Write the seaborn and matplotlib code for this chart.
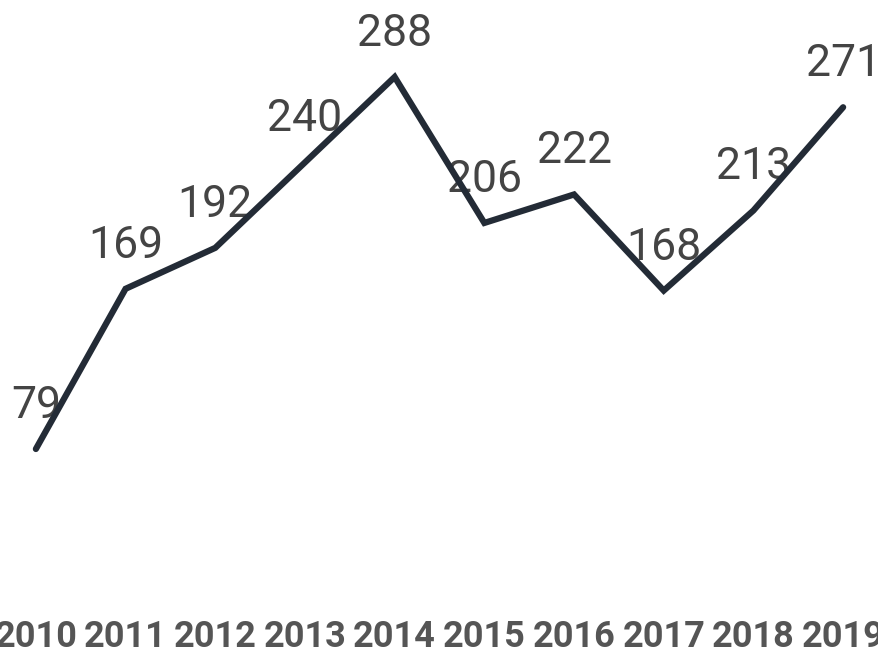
import pandas as pd
import seaborn as sns
import matplotlib.pyplot as plt

years = [2010, 2011, 2012, 2013, 2014, 2015, 2016, 2017, 2018, 2019]
values = [79, 169, 192, 240, 288, 206, 222, 168, 213, 271]

LINE = '#232b36'


def draw(df):
    fig = plt.figure(figsize=(8.79, 6.56), dpi=100)
    ax = fig.add_axes([0, 0.1012, 1, 0.8954])
    sns.lineplot(x='year', y='value', data=df, ax=ax, color=LINE,
                 linewidth=4.5, solid_capstyle='round', solid_joinstyle='miter',
                 zorder=3)
    for x, y in zip(df.year, df.value):
        ax.annotate(str(y), (x, y), xytext=(0, 31), textcoords='offset points',
                    ha='center', va='center', fontsize=32, color='#444444',
                    family='Roboto', zorder=2, annotation_clip=False)
    ax.set_xlim(2009.6, 2019.4)
    ax.set_ylim(0, 330)
    ax.set_xticks(years)
    ax.set_xticklabels([str(y) for y in years], fontsize=26, fontweight='bold',
                       color='#555555', family='Roboto')
    ax.tick_params(axis='x', length=0, pad=21)
    ax.set_yticks([])
    ax.set_xlabel('')
    ax.set_ylabel('')
    sns.despine(ax=ax, left=True, bottom=True)
    ax.patch.set_alpha(0)
    return fig


if __name__ == '__main__':
    sns.set_style('white')
    df = pd.DataFrame({'year': years, 'value': values})
    fig = draw(df)
    fig.savefig('out.png', dpi=100)
